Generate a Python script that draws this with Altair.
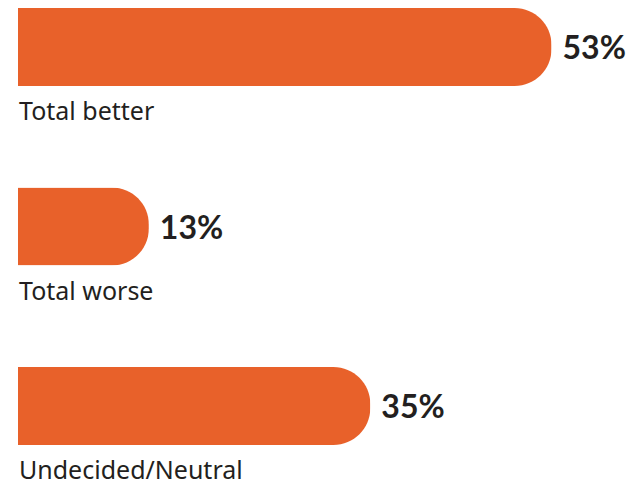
import altair as alt
import pandas as pd

categories = ["Total better", "Total worse", "Undecided/Neutral"]
values = [53, 13, 35]
value_labels = ["53%", "13%", "35%"]

df = pd.DataFrame({"cat": categories, "val": values, "lab": value_labels})

BAR = "#E8612A"
TEXT = "#231F20"

y_enc = alt.Y("cat:N", sort=categories, axis=None,
              scale=alt.Scale(paddingInner=0.5655, paddingOuter=0))
x_scale = alt.Scale(domain=[0, 60.4])

bars = alt.Chart(df).mark_bar(color=BAR, cornerRadiusEnd=37).encode(
    x=alt.X("val:Q", scale=x_scale, axis=None),
    y=y_enc,
)

vals = alt.Chart(df).mark_text(
    align="left", baseline="alphabetic", dx=11, dy=12, font="Lato", fontWeight="bold",
    fontSize=32, color=TEXT,
).encode(
    x=alt.X("val:Q", scale=x_scale, axis=None),
    y=y_enc,
    text="lab:N",
)

cats = alt.Chart(df).mark_text(
    align="left", baseline="alphabetic", dx=1, dy=73, font="Noto Sans", fontSize=25,
    color=TEXT,
).encode(
    x=alt.value(0),
    y=y_enc,
    text="cat:N",
)

chart = alt.layer(bars, vals, cats).properties(
    width=608, height=437,
    autosize=alt.AutoSizeParams(type="none"),
    padding={"left": 10, "top": 0, "right": 0, "bottom": 40},
).configure(background="white").configure_view(stroke=None)

chart.save("out.html", embed_options={"renderer": "svg", "actions": False})
